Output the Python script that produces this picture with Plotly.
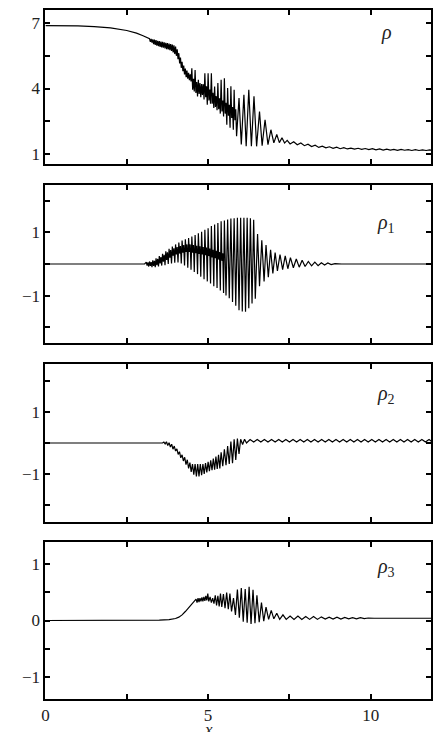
import plotly.graph_objects as go

# ---------------- data ----------------
# panel 1: rho
rho_x = [0, 0.5, 1.0, 1.5, 2.0, 2.5, 2.8, 3.0,
         3.200, 3.225, 3.250, 3.275, 3.300, 3.325, 3.350, 3.375, 3.400, 3.425, 3.450, 3.475,
         3.500, 3.525, 3.550, 3.575, 3.600, 3.625, 3.650, 3.675, 3.700, 3.725, 3.750, 3.775,
         3.800, 3.825, 3.850, 3.875, 3.900, 3.925, 3.950, 3.975, 4.000, 4.025, 4.050, 4.075,
         4.100, 4.125, 4.150, 4.175, 4.200, 4.225, 4.250, 4.275, 4.300, 4.325, 4.350, 4.375,
         4.400, 4.425, 4.450, 4.475,
         4.50, 4.525, 4.55, 4.575, 4.60, 4.625, 4.65, 4.675, 4.70, 4.725, 4.75, 4.775,
         4.80, 4.825, 4.85, 4.875, 4.90, 4.925, 4.95, 4.975, 5.00, 5.025, 5.05, 5.075,
         5.10, 5.125, 5.15, 5.175, 5.20, 5.225, 5.25, 5.275, 5.30, 5.325, 5.35, 5.375,
         5.40, 5.425, 5.45, 5.475, 5.50, 5.525, 5.55, 5.575, 5.60, 5.625, 5.65, 5.675,
         5.70, 5.725, 5.75, 5.775, 5.80, 5.825, 5.85, 5.875,
         5.95, 6.02, 6.10, 6.17, 6.25, 6.33, 6.41, 6.49, 6.58, 6.66, 6.75, 6.84, 6.93, 7.02,
         7.11, 7.19, 7.27, 7.35, 7.43, 7.52,
         7.63, 7.74, 7.85, 7.96, 8.07, 8.18, 8.29, 8.40, 8.51, 8.62, 8.73, 8.84, 8.95, 9.06,
         9.17, 9.28, 9.39, 9.50, 9.61, 9.72, 9.83, 9.94, 10.05, 10.16, 10.27, 10.38, 10.49,
         10.60, 10.71, 10.82, 10.93, 11.04, 11.15, 11.26, 11.37, 11.48, 11.59, 11.70, 11.81, 11.92]
rho_y = [6.88, 6.88, 6.87, 6.84, 6.78, 6.66, 6.54, 6.42,
         6.28, 6.14, 6.28, 6.10, 6.25, 6.04, 6.24, 6.00, 6.22, 5.97, 6.19, 5.94,
         6.17, 5.91, 6.15, 5.89, 6.14, 5.87, 6.12, 5.84, 6.10, 5.81, 6.08, 5.79,
         6.06, 5.76, 6.04, 5.72, 6.02, 5.66, 5.98, 5.58, 5.92, 5.50, 5.80, 5.35,
         5.62, 5.15, 5.42, 4.95, 5.22, 4.80, 5.05, 4.65, 4.92, 4.52, 4.82, 4.45,
         4.72, 4.38, 4.65, 4.32,
         4.93, 3.95, 4.45, 3.86, 4.85, 3.80, 4.30, 3.64, 4.40, 3.75, 4.25, 3.60,
         4.20, 3.70, 4.20, 3.50, 4.70, 3.60, 4.10, 3.26, 4.70, 3.45, 3.95, 3.30,
         4.70, 3.30, 3.80, 3.11, 4.09, 3.15, 3.65, 3.00, 4.25, 3.05, 3.55, 2.85,
         4.40, 2.95, 3.45, 2.72, 4.47, 2.85, 3.35, 2.34, 4.02, 2.75, 3.25, 2.20,
         4.10, 2.65, 3.15, 2.11, 3.94, 2.55, 3.05, 1.81,
         3.56, 1.43, 3.71, 1.35, 3.94, 1.35, 3.64, 1.35, 2.95, 1.38, 2.57, 1.43, 2.11, 1.51,
         1.89, 1.52, 1.74, 1.50, 1.62, 1.46,
         1.56, 1.42, 1.50, 1.38, 1.45, 1.34, 1.40, 1.30, 1.36, 1.28, 1.33, 1.26, 1.31, 1.24,
         1.29, 1.23, 1.27, 1.22, 1.26, 1.21, 1.25, 1.20, 1.24, 1.19, 1.23, 1.18, 1.22,
         1.18, 1.21, 1.17, 1.21, 1.17, 1.20, 1.16, 1.20, 1.16, 1.19, 1.16, 1.19, 1.16]

# panel 2: rho_1
rho1_x = [0, 3.05,
          3.10, 3.125, 3.15, 3.175, 3.20, 3.225, 3.25, 3.275, 3.30, 3.325, 3.35, 3.375,
          3.40, 3.425, 3.45, 3.475, 3.50, 3.525, 3.55, 3.575, 3.60, 3.625, 3.65, 3.675,
          3.70, 3.725, 3.75, 3.775, 3.80, 3.825, 3.85, 3.875, 3.90, 3.925, 3.95, 3.975,
          4.00, 4.025, 4.05, 4.075, 4.10, 4.125, 4.15, 4.175, 4.20, 4.225, 4.25, 4.275,
          4.30, 4.325, 4.35, 4.375, 4.40, 4.425, 4.45, 4.475, 4.50, 4.525, 4.55, 4.575,
          4.60, 4.625, 4.65, 4.675, 4.70, 4.725, 4.75, 4.775, 4.80, 4.825, 4.85, 4.875,
          4.90, 4.925, 4.95, 4.975, 5.00, 5.025, 5.05, 5.075, 5.10, 5.125, 5.15, 5.175,
          5.20, 5.225, 5.25, 5.275, 5.30, 5.325, 5.35, 5.375, 5.40, 5.425, 5.45, 5.475,
          5.50, 5.55, 5.60, 5.65, 5.70, 5.75, 5.80, 5.85, 5.90, 5.95,
          6.00, 6.05, 6.10, 6.15, 6.20, 6.25, 6.30, 6.35, 6.40, 6.45,
          6.52, 6.58, 6.65, 6.72, 6.78, 6.85, 6.92, 6.99, 7.06, 7.13, 7.21, 7.29, 7.37, 7.45,
          7.53, 7.62, 7.71, 7.80, 7.89, 7.98, 8.08, 8.18, 8.28, 8.38, 8.48, 8.58, 8.68, 8.78,
          8.90, 9.10, 11.95]
rho1_y = [0.0, 0.0,
          0.06, -0.05, 0.05, -0.08, 0.08, -0.06, 0.06, -0.10, 0.12, -0.06, 0.10, -0.10,
          0.18, -0.04, 0.16, -0.08, 0.25, 0.02, 0.22, -0.05, 0.32, 0.07, 0.29, -0.04,
          0.40, 0.13, 0.37, 0.00, 0.48, 0.20, 0.44, 0.02, 0.55, 0.26, 0.50, 0.04,
          0.62, 0.30, 0.54, 0.05, 0.68, 0.33, 0.57, 0.02, 0.74, 0.36, 0.60, -0.05,
          0.78, 0.38, 0.62, -0.12, 0.82, 0.38, 0.62, -0.18, 0.87, 0.36, 0.60, -0.25,
          0.92, 0.34, 0.58, -0.32, 0.97, 0.32, 0.56, -0.40, 1.02, 0.30, 0.54, -0.48,
          1.08, 0.28, 0.52, -0.55, 1.13, 0.25, 0.49, -0.62, 1.20, 0.21, 0.45, -0.70,
          1.25, 0.18, 0.42, -0.76, 1.30, 0.14, 0.38, -0.84, 1.35, 0.10, 0.34, -0.92,
          1.38, -1.00, 1.41, -1.08, 1.44, -1.20, 1.45, -1.32, 1.46, -1.46,
          1.46, -1.50, 1.46, -1.51, 1.46, -1.40, 1.45, -1.25, 1.40, -1.10,
          0.95, -0.70, 0.75, -0.55, 0.60, -0.42, 0.45, -0.30, 0.36, -0.22, 0.30, -0.18, 0.26, -0.15,
          0.20, -0.12, 0.16, -0.10, 0.12, -0.08, 0.08, -0.06, 0.06, -0.05, 0.04, -0.03, 0.03, -0.02,
          0.01, 0.0, 0.0]

# panel 3: rho_2
rho2_x = [0, 3.0, 3.60,
          3.64, 3.68, 3.72, 3.76, 3.80, 3.84, 3.88, 3.92, 3.96, 4.00, 4.04, 4.08,
          4.12, 4.16, 4.20, 4.24, 4.28, 4.32, 4.36, 4.40, 4.44, 4.48, 4.52, 4.56,
          4.60, 4.64, 4.68, 4.72, 4.76, 4.80, 4.84, 4.88, 4.92, 4.96, 5.00, 5.04,
          5.08, 5.12, 5.16, 5.20, 5.24, 5.28, 5.32, 5.36,
          5.40, 5.45, 5.50, 5.55, 5.60, 5.65, 5.70, 5.75, 5.80, 5.85, 5.90, 5.95,
          6.00, 6.06, 6.12, 6.18,
          6.29, 6.40, 6.51, 6.62, 6.73, 6.84, 6.95, 7.06, 7.17, 7.28, 7.39, 7.50, 7.61,
          7.72, 7.83, 7.94, 8.05, 8.16, 8.27, 8.38, 8.49, 8.60, 8.71, 8.82, 8.93, 9.04,
          9.15, 9.26, 9.37, 9.48, 9.59, 9.70, 9.81, 9.92, 10.03, 10.14, 10.25, 10.36, 10.47,
          10.58, 10.69, 10.80, 10.91, 11.02, 11.13, 11.24, 11.35, 11.46, 11.57, 11.68, 11.79, 11.90]
rho2_y = [0.0, 0.0, 0.0,
          0.03, -0.03, 0.04, -0.08, 0.01, -0.13, -0.04, -0.20, -0.10, -0.26, -0.19, -0.37,
          -0.28, -0.48, -0.38, -0.58, -0.46, -0.70, -0.54, -0.82, -0.63, -0.93, -0.68, -1.02,
          -0.68, -1.08, -0.68, -1.08, -0.68, -1.04, -0.68, -1.00, -0.65, -0.95, -0.61, -0.91,
          -0.56, -0.88, -0.50, -0.86, -0.44, -0.84, -0.38, -0.82,
          -0.30, -0.75, -0.20, -0.72, -0.10, -0.68, 0.05, -0.65, 0.12, -0.55, 0.14, -0.35,
          0.12, -0.05, 0.12, 0.00,
          0.11, 0.03, 0.11, 0.03, 0.11, 0.03, 0.11, 0.03, 0.11, 0.03, 0.11, 0.03, 0.11,
          0.03, 0.11, 0.03, 0.11, 0.03, 0.11, 0.03, 0.11, 0.03, 0.11, 0.03, 0.11, 0.03,
          0.11, 0.03, 0.11, 0.03, 0.11, 0.03, 0.11, 0.03, 0.11, 0.03, 0.11, 0.03, 0.11,
          0.03, 0.11, 0.03, 0.11, 0.03, 0.11, 0.03, 0.11, 0.03, 0.11, 0.03, 0.11, 0.03]

# panel 4: rho_3
rho3_x = [0, 3.0, 3.5, 3.8, 4.0, 4.1, 4.2, 4.3, 4.4, 4.5, 4.6,
          4.63, 4.66, 4.69, 4.72, 4.75, 4.78, 4.81, 4.84, 4.87, 4.90, 4.93, 4.96, 4.99, 5.02,
          5.06, 5.10, 5.14, 5.18, 5.22, 5.26, 5.30, 5.34, 5.38, 5.42, 5.47, 5.52, 5.57, 5.62,
          5.67, 5.72, 5.78, 5.84, 5.90, 5.96, 6.02, 6.08, 6.14, 6.20, 6.26, 6.32, 6.38, 6.44,
          6.50, 6.57, 6.64, 6.71, 6.78, 6.86, 6.94, 7.02, 7.11, 7.20, 7.30, 7.40,
          7.52, 7.64, 7.76, 7.88, 8.00, 8.12, 8.24, 8.36, 8.48, 8.60, 8.72, 8.84, 8.96, 9.08,
          9.20, 9.32, 9.44, 9.56, 9.68, 9.80, 9.92, 10.10, 11.95]
rho3_y = [0.0, 0.0, 0.005, 0.015, 0.035, 0.06, 0.10, 0.16, 0.23, 0.30, 0.35,
          0.38, 0.32, 0.40, 0.33, 0.40, 0.34, 0.41, 0.34, 0.42, 0.35, 0.44, 0.36, 0.48, 0.34,
          0.42, 0.32, 0.40, 0.30, 0.45, 0.27, 0.44, 0.25, 0.48, 0.24, 0.47, 0.22, 0.50, 0.20,
          0.48, 0.16, 0.40, 0.10, 0.55, 0.05, 0.58, -0.02, 0.56, -0.04, 0.60, -0.06, 0.55, -0.05,
          0.45, -0.03, 0.32, -0.01, 0.24, 0.02, 0.18, 0.03, 0.13, 0.02, 0.10, 0.02,
          0.08, 0.02, 0.08, 0.02, 0.07, 0.02, 0.07, 0.02, 0.065, 0.025, 0.06, 0.025, 0.06, 0.025,
          0.055, 0.03, 0.05, 0.03, 0.05, 0.035, 0.045, 0.04, 0.04]

panel_labels = ["<i>ρ</i>", "<i>ρ</i><sub>1</sub>", "<i>ρ</i><sub>2</sub>", "<i>ρ</i><sub>3</sub>"]
label_y = [6.59, 1.28, 1.58, 0.95]
y_ranges = [[0.54, 7.6], [-2.5, 2.5], [-2.55, 2.55], [-1.4, 1.4]]
y_tickvals = [[1, 2.5, 4, 5.5, 7], [-2, -1, 0, 1, 2], [-2, -1, 0, 1, 2], [-1, -0.5, 0, 0.5, 1]]
y_ticktext = [["1", "", "4", "", "7"], ["", "−1", "", "1", ""], ["", "−1", "", "1", ""],
              ["−1", "", "0", "", "1"]]
x_tickvals = [0, 2.5, 5, 7.5, 10]
x_ticktext = ["0", "", "5", "", "10"]
x_range = [0, 11.85]

# ---------------- figure ----------------
W, H = 433, 732
panel_px = [(10, 164), (185, 343), (364, 522), (542, 699)]  # top, bottom in pixels
left_px = 42

series = [(rho_x, rho_y), (rho1_x, rho1_y), (rho2_x, rho2_y), (rho3_x, rho3_y)]
font_family = "Liberation Serif"

fig = go.Figure()
layout = dict(width=W, height=H, margin=dict(l=0, r=0, t=0, b=0),
              paper_bgcolor="white", plot_bgcolor="white", showlegend=False,
              font=dict(family=font_family, size=17, color="#222"))

axis_common = dict(showline=True, linecolor="black", linewidth=2, mirror="ticks",
                   ticks="inside", ticklen=5, tickwidth=1.5, tickcolor="black",
                   showgrid=False, zeroline=False,
                   tickfont=dict(family=font_family, size=17, color="#222"))

annotations = []
for i, (xs, ys) in enumerate(series):
    n = i + 1
    sx = "" if n == 1 else str(n)
    top, bot = panel_px[i]
    fig.add_trace(go.Scatter(x=xs, y=ys, mode="lines",
                             line=dict(color="black", width=1.2),
                             xaxis="x" + sx, yaxis="y" + sx, hoverinfo="skip"))
    layout["xaxis" + sx] = dict(axis_common, domain=[left_px / W, 1.0], range=x_range,
                                anchor="y" + sx, tickvals=x_tickvals,
                                ticktext=x_ticktext if n == 4 else [""] * 5)
    layout["yaxis" + sx] = dict(axis_common, domain=[1 - bot / H, 1 - top / H],
                                range=y_ranges[i], anchor="x" + sx,
                                tickvals=y_tickvals[i], ticktext=y_ticktext[i])
    annotations.append(dict(x=10.48, y=label_y[i], xref="x" + sx, yref="y" + sx,
                            text=panel_labels[i], showarrow=False,
                            font=dict(family=font_family, size=20, color="#222")))

annotations.append(dict(x=5, y=1 - 729 / H, xref="x4", yref="paper", yanchor="middle",
                        text="<i>x</i>", showarrow=False,
                        font=dict(family=font_family, size=17, color="#222")))
layout["annotations"] = annotations
fig.update_layout(**layout)

fig.write_html("out.html")
